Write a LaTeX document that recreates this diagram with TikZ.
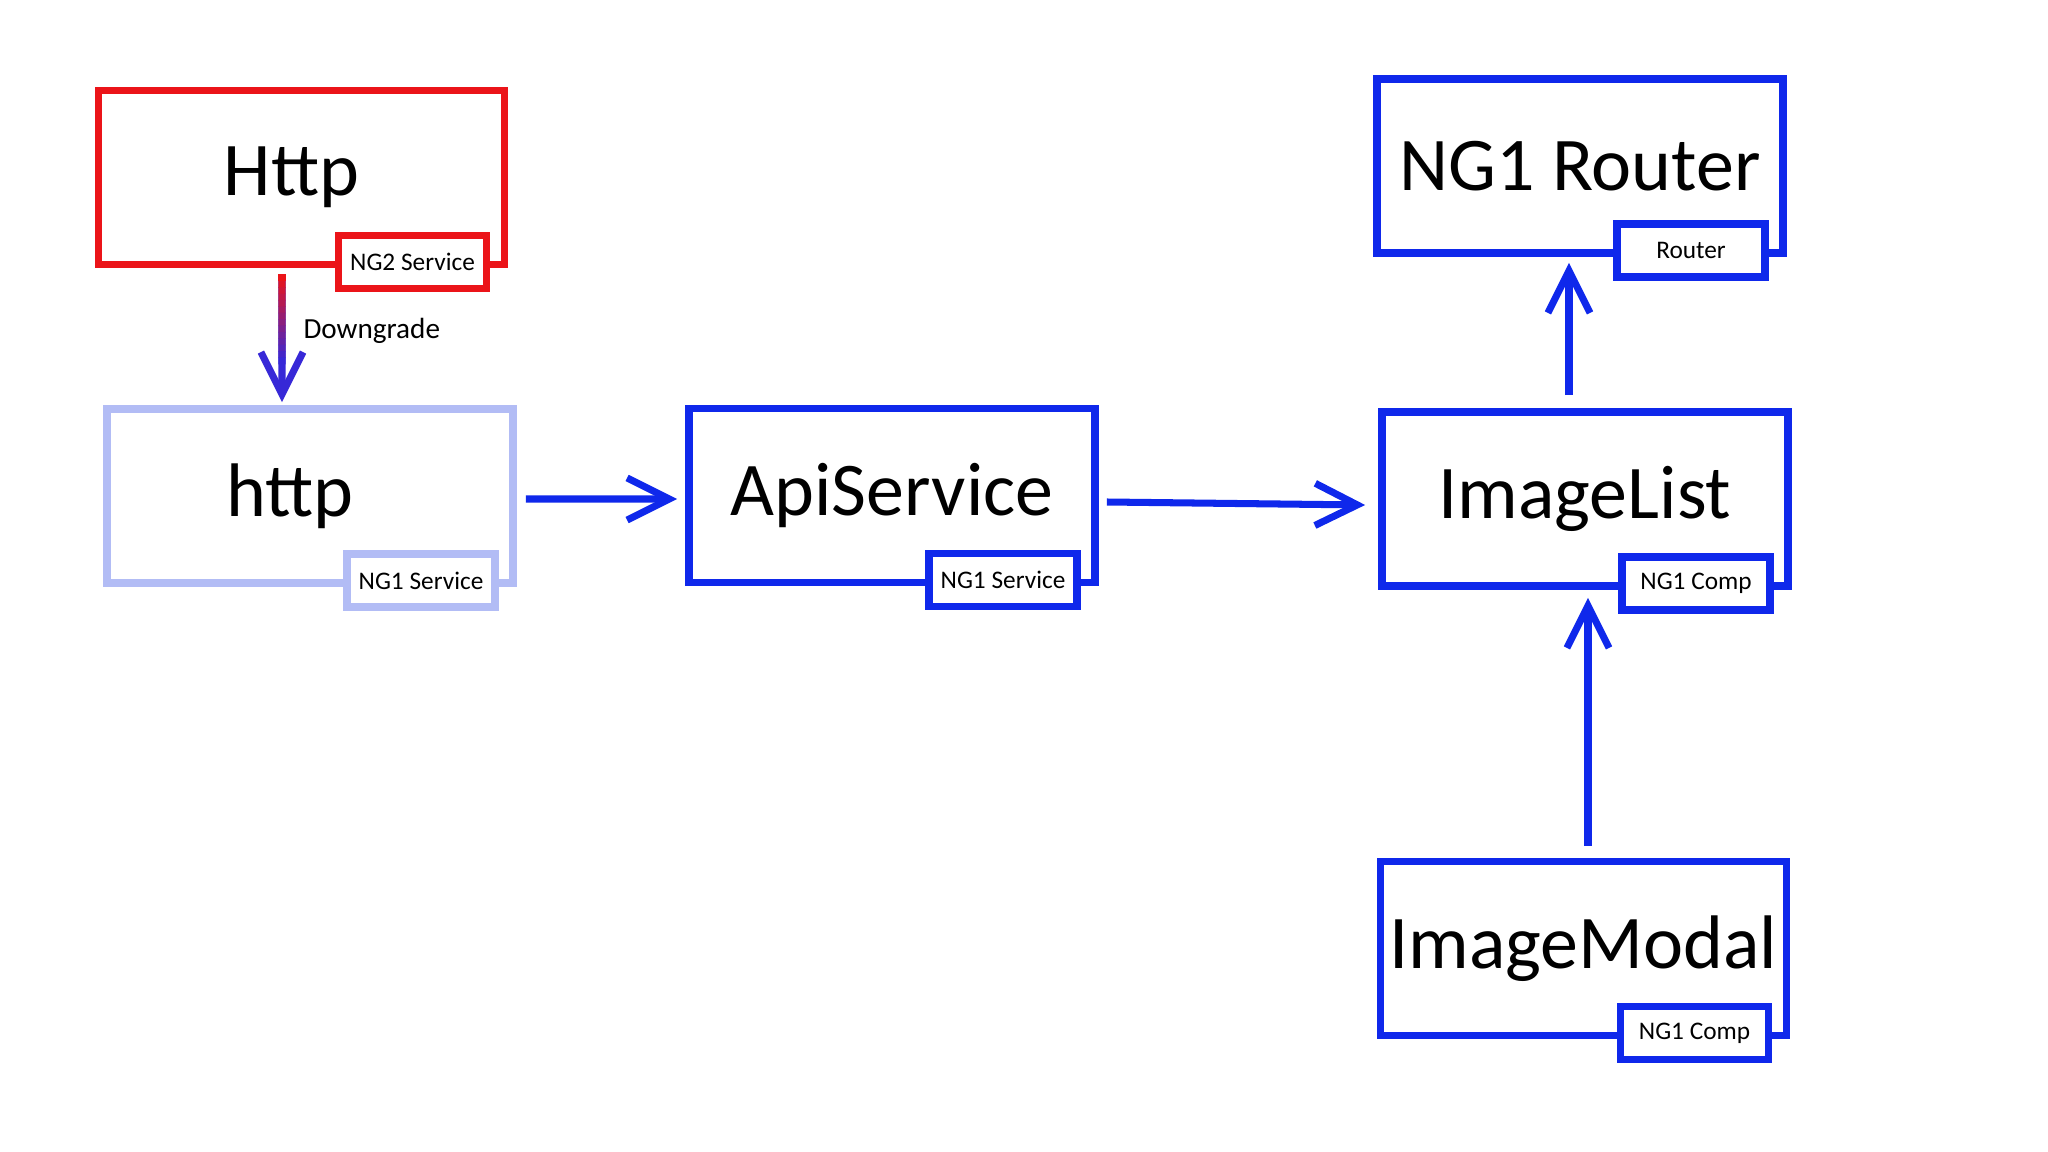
\documentclass[tikz,border=0pt]{standalone}
\usepackage{fontspec}
\setmainfont{Carlito}
\usetikzlibrary{arrows.meta,positioning,calc}
\definecolor{ngred}{RGB}{235,20,25}
\definecolor{ngblue}{RGB}{15,40,235}
\definecolor{nglight}{RGB}{178,188,245}
\definecolor{dgblue}{RGB}{55,40,215}

\begin{document}
\begin{tikzpicture}[
  every node/.style={font=\fontsize{21.6}{26}\selectfont},
  compbox/.style={draw=ngblue, line width=2.2pt, fill=white, minimum width=4.06cm, minimum height=1.74cm, inner sep=0pt},
  tagbox/.style={draw=ngblue, line width=2.1pt, fill=white, minimum width=1.48cm, minimum height=0.53cm, inner sep=0pt, font=\fontsize{7.2}{9}\selectfont},
  flow/.style={-{Straight Barb[length=12pt,width=12pt]}, line width=2pt, draw=ngblue}
]
  \useasboundingbox (0,0) rectangle (20.48,-11.52);

  % component boxes
  \node[compbox, draw=ngred] (Http) at (3.015,-1.775) {\hspace*{-0.2cm}Http};
  \node[compbox, draw=nglight] (http) at (3.10,-4.96) {\hspace*{-0.4cm}http};
  \node[compbox] (api) at (8.92,-4.955) {ApiService};
  \node[compbox] (router) at (15.80,-1.66) {NG1 Router};
  \node[compbox] (imglist) at (15.85,-4.99) {ImageList};
  \node[compbox] (imgmodal) at (15.835,-9.485) {ImageModal};

  % little type tags, bottom right of each box
  \node[tagbox, draw=ngred] (Httptag) at ([shift={(1.11,-0.845)}]Http.center) {NG2 Service};
  \node[tagbox, draw=nglight] (httptag) at ([shift={(1.11,-0.845)}]http.center) {NG1 Service};
  \node[tagbox] (apitag) at ([shift={(1.11,-0.845)}]api.center) {NG1 Service};
  \node[tagbox] (routertag) at ([shift={(1.11,-0.845)}]router.center) {Router};
  \node[tagbox] (imglisttag) at ([shift={(1.11,-0.845)}]imglist.center) {NG1 Comp};
  \node[tagbox] (imgmodaltag) at ([shift={(1.11,-0.845)}]imgmodal.center) {NG1 Comp};

  % downgrade: red fading into blue
  \coordinate (dgtop) at ([shift={(-0.195,-0.06)}]Http.south);
  \coordinate (dgbot) at ([shift={(-0.28,0.03)}]http.north);
  \draw[flow, draw=dgblue] (dgtop) -- (dgbot)
    node[pos=0.44, anchor=west, inner sep=0pt, xshift=0.18cm, font=\fontsize{8.3}{10}\selectfont] (dglabel) {Downgrade};
  \foreach \i in {0,...,13} {
    \pgfmathtruncatemacro\pct{100*\i/13}
    \draw[line width=2pt, draw=dgblue!\pct!ngred]
      ($(dgtop)!\i*0.05!(dgbot)$) -- ($(dgtop)!\i*0.05+0.055!(dgbot)$);
  }

  % flow
  \draw[flow] ([shift={(0.09,-0.03)}]http.east) -- ([shift={(-0.08,-0.035)}]api.west);
  \draw[flow] ([shift={(0.08,-0.065)}]api.east) -- ([shift={(-0.13,-0.06)}]imglist.west);
  \draw[flow] ([shift={(-0.16,0.13)}]imglist.north) -- ([shift={(-0.11,-0.06)}]router.south);
  \draw[flow] ([shift={(0.045,0.12)}]imgmodal.north) -- ([shift={(0.03,-0.08)}]imglist.south);
\end{tikzpicture}
\end{document}
